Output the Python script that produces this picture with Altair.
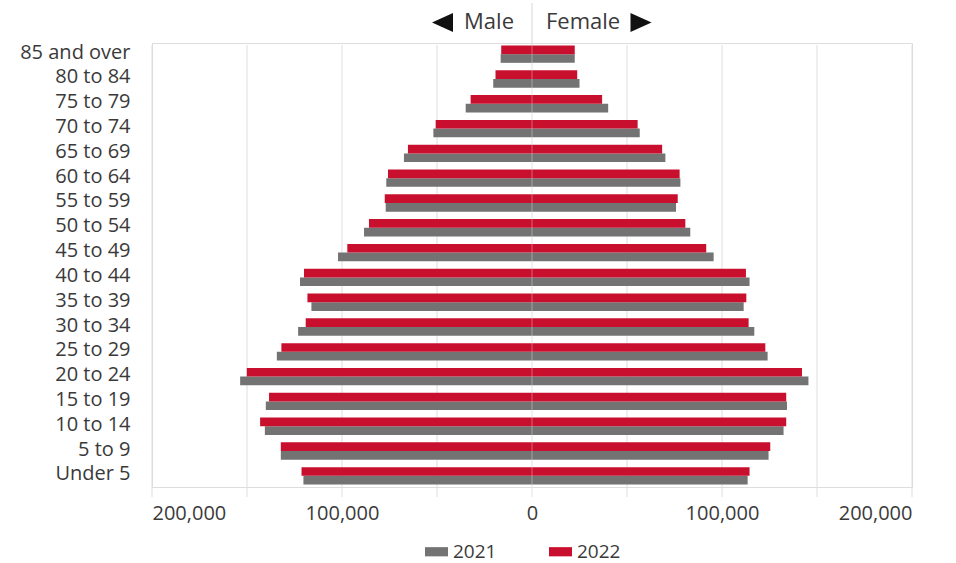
import altair as alt
import pandas as pd

# Age groups, oldest first (top of the pyramid)
ages = ["85 and over", "80 to 84", "75 to 79", "70 to 74", "65 to 69", "60 to 64",
        "55 to 59", "50 to 54", "45 to 49", "40 to 44", "35 to 39", "30 to 34",
        "25 to 29", "20 to 24", "15 to 19", "10 to 14", "5 to 9", "Under 5"]

male_2021 = [16500, 20400, 34900, 51900, 67400, 76700, 77000, 88400, 102100,
             122100, 116100, 123100, 134300, 153600, 140100, 140600, 132200, 120300]
male_2022 = [16200, 19200, 32300, 50700, 65300, 75800, 77500, 85800, 97200,
             120000, 118200, 119100, 131900, 150100, 138400, 143100, 132200, 121300]
female_2021 = [22500, 25000, 40100, 56700, 70200, 78100, 75800, 83300, 95600,
               114500, 111400, 117000, 124000, 145500, 134200, 132400, 124500, 113500]
female_2022 = [22500, 23800, 36900, 55600, 68500, 77700, 76700, 80700, 91700,
               112600, 112800, 114000, 122800, 142100, 133800, 133800, 125400, 114500]

years = ["2021", "2022"]
year_colors = ["#737373", "#C8102E"]
tick_values = [-200000, -100000, 0, 100000, 200000]
grid_values = [-200000, -150000, -100000, -50000, 0, 50000, 100000, 150000, 200000]

FONT = "Open Sans"
TEXT = "#3a3a3a"
W, H = 760, 444

rows = []
for i, age in enumerate(ages):
    rows.append({"age": age, "year": "2021", "sex": "Male", "value": -male_2021[i]})
    rows.append({"age": age, "year": "2022", "sex": "Male", "value": -male_2022[i]})
    rows.append({"age": age, "year": "2021", "sex": "Female", "value": female_2021[i]})
    rows.append({"age": age, "year": "2022", "sex": "Female", "value": female_2022[i]})
df = pd.DataFrame(rows)

x_scale = alt.Scale(domain=[-200000, 200000], nice=False)
x_axis = alt.Axis(
    values=tick_values,
    labelExpr="format(abs(datum.value), ',')",
    grid=False, ticks=False, domain=False, title=None,
    labelFont=FONT, labelFontSize=20, labelColor=TEXT, labelPadding=16,
)

# Vertical gridlines every 50,000, drawn a little past the bottom bar
grid = alt.Chart(pd.DataFrame({"g": grid_values})).mark_rule(
    color="#dedede", strokeWidth=1
).encode(
    x=alt.X("g:Q", scale=x_scale, axis=x_axis),
    y=alt.value(2),
    y2=alt.value(454),
)

bars = alt.Chart(df).mark_bar().encode(
    x=alt.X("value:Q", scale=x_scale, axis=x_axis),
    y=alt.Y(
        "age:N",
        sort=ages,
        scale=alt.Scale(paddingInner=0.3, paddingOuter=0.1),
        axis=alt.Axis(
            title=None, ticks=False, domain=False, grid=False,
            labelFont=FONT, labelFontSize=20, labelColor=TEXT, labelPadding=22,
            labelOffset=-1.5,
        ),
    ),
    yOffset=alt.YOffset("year:N", sort=["2022", "2021"],
                        scale=alt.Scale(domain=["2022", "2021"], paddingInner=0, paddingOuter=0)),
    color=alt.Color(
        "year:N",
        scale=alt.Scale(domain=years, range=year_colors),
        legend=alt.Legend(
            title=None, orient="none", direction="horizontal",
            legendX=273, legendY=497, padding=0,
            symbolType="M-1,-0.4L1,-0.4L1,0.4L-1,0.4Z", symbolSize=529,
            symbolStrokeWidth=0, labelOffset=5, columnPadding=52, labelLimit=200,
            labelFont=FONT, labelFontSize=19, labelColor=TEXT,
        ),
    ),
)

zero_over = alt.Chart(pd.DataFrame({"z": [0]})).mark_rule(
    color="#ffffff", strokeWidth=1, opacity=0.35
).encode(x=alt.X("z:Q", scale=x_scale, axis=x_axis), y=alt.value(2), y2=alt.value(454))

zero_top = alt.Chart(pd.DataFrame({"z": [0]})).mark_rule(
    color="#d6d6d6", strokeWidth=1
).encode(x=alt.X("z:Q", scale=x_scale, axis=x_axis), y=alt.value(-40), y2=alt.value(2))

# Header: direction markers for the two halves of the pyramid
header_male = alt.Chart(pd.DataFrame({"label": ["Male"]})).mark_text(
    font=FONT, fontSize=22, color=TEXT, align="right", baseline="middle"
).encode(text="label:N", x=alt.value(362), y=alt.value(-21))

header_female = alt.Chart(pd.DataFrame({"label": ["Female"]})).mark_text(
    font=FONT, fontSize=22, color=TEXT, align="left", baseline="middle"
).encode(text="label:N", x=alt.value(394), y=alt.value(-21))

arrow_left = alt.Chart(pd.DataFrame({"a": ["left"]})).mark_point(
    shape="M-1,0L1,-0.9L1,0.9Z", size=441, filled=True, color="#111111", opacity=1
).encode(x=alt.value(290.5), y=alt.value(-20.5))

arrow_right = alt.Chart(pd.DataFrame({"a": ["right"]})).mark_point(
    shape="M1,0L-1,-0.9L-1,0.9Z", size=441, filled=True, color="#111111", opacity=1
).encode(x=alt.value(489), y=alt.value(-20.5))

chart = alt.layer(
    grid, zero_top, bars, zero_over, header_male, header_female, arrow_left, arrow_right
).properties(
    width=W, height=H,
    autosize=alt.AutoSizeParams(type="none"),
    padding={"left": 152, "top": 43, "right": 44, "bottom": 76},
).configure_view(stroke=None).configure(background="white")

chart.save("out.html", embed_options={"renderer": "svg", "actions": False})
